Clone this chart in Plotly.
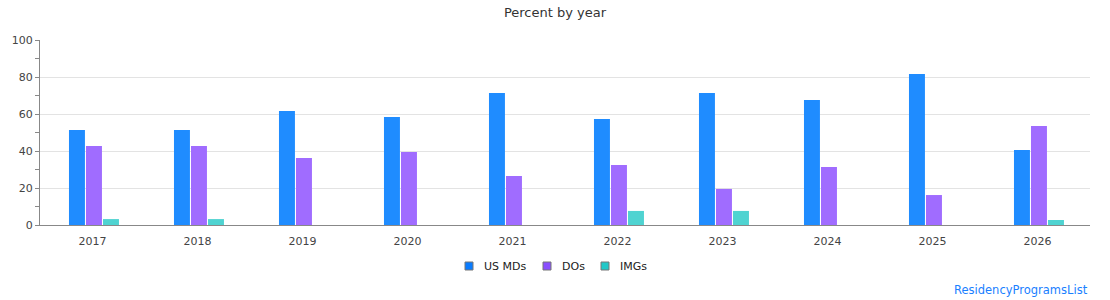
import plotly.graph_objects as go

years = ["2017", "2018", "2019", "2020", "2021", "2022", "2023", "2024", "2025", "2026"]
us_mds = [51.4, 51.4, 61.6, 58.4, 71.4, 57.3, 71.4, 67.6, 81.6, 40.5]
dos = [42.7, 42.7, 36.2, 39.5, 26.5, 32.4, 19.5, 31.4, 16.2, 53.5]
imgs = [3.2, 3.2, 0, 0, 0, 7.6, 7.6, 0, 0, 2.7]

series_names = ["US MDs", "DOs", "IMGs"]
series_values = [us_mds, dos, imgs]
series_colors = ["#1f8cff", "#a06cff", "#4fd3d1"]
legend_colors = ["#0a7cff", "#8a4fff", "#22c8c8"]
bar_offsets = [-0.224, -0.062, 0.1]
bar_width = 0.152

W, H = 1110, 300
L, R, T, B = 40, 20, 40, 75
PW, PH = W - L - R, H - T - B


def px_x(px):
    return (px - L) / PW


def px_y(py):
    return (H - B - py) / PH


fig = go.Figure()
for name, vals, col, off in zip(series_names, series_values, series_colors, bar_offsets):
    fig.add_trace(go.Bar(x=years, y=vals, name=name, width=bar_width, offset=off,
                         marker=dict(color=col, line=dict(width=0))))

fig.update_layout(
    width=W, height=H,
    margin=dict(l=L, r=R, t=T, b=B, autoexpand=False),
    paper_bgcolor="white", plot_bgcolor="white",
    font=dict(family="DejaVu Sans", size=11, color="#444"),
    title=dict(text="Percent by year", x=0.5, xanchor="center", y=0.96, yanchor="middle",
               font=dict(size=13, color="#333")),
    barmode="overlay",
    showlegend=False,
    xaxis=dict(showline=True, linecolor="#888", linewidth=1, ticks="", showgrid=False,
               ticklabelstandoff=6, tickfont=dict(size=11, color="#444")),
    yaxis=dict(range=[0, 100], dtick=20, showline=True, linecolor="#888", linewidth=1,
               ticks="outside", ticklen=4, tickcolor="#888", gridcolor="#e3e3e3",
               zeroline=False, tickfont=dict(size=11, color="#444"),
               minor=dict(dtick=10, ticks="outside", ticklen=4, tickcolor="#888", showgrid=False)),
)

# custom legend (squares + labels)
sq_left = [465, 543, 601]
txt_left = [483, 561, 619]
for name, col, sx, tx in zip(series_names, legend_colors, sq_left, txt_left):
    fig.add_shape(type="rect", xref="paper", yref="paper",
                  x0=px_x(sx), x1=px_x(sx + 8), y0=px_y(270), y1=px_y(262),
                  fillcolor=col, line=dict(color="#777", width=1))
    fig.add_annotation(text=name, xref="paper", yref="paper", x=px_x(tx), xanchor="left",
                       y=px_y(266), yanchor="middle", showarrow=False,
                       font=dict(size=11, color="#222"), xshift=-1)

fig.add_annotation(text="ResidencyProgramsList", xref="paper", yref="paper", x=1.0, xanchor="right",
                   y=px_y(290), yanchor="middle", showarrow=False,
                   font=dict(size=11.5, color="#1a80ff"))

fig.write_html("out.html")
